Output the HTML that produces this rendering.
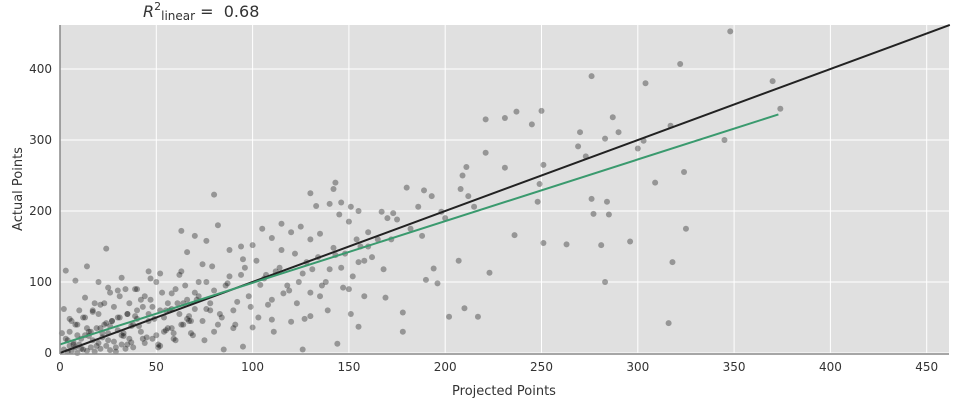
<!DOCTYPE html>
<html><head><meta charset="utf-8"><style>
body{margin:0;background:#fff;font-family:"Liberation Sans","DejaVu Sans",sans-serif}
svg text{font-family:"DejaVu Sans","Liberation Sans",sans-serif;fill:#333}
</style></head><body>
<svg id="c" width="959" height="400" xmlns="http://www.w3.org/2000/svg">
<rect x="60" y="25" width="889" height="328" fill="#e0e0e0"/>
<g id="grid"></g><g id="pts"></g><g id="lines"></g><g id="ticks"></g>
<line x1="60" y1="25" x2="60" y2="354" stroke="#888" stroke-width="1.5"/>
<line x1="60" y1="354" x2="949" y2="354" stroke="#888" stroke-width="1.5"/>
<text x="143" y="17" font-size="16"><tspan font-style="italic">R</tspan><tspan font-size="11" dy="-7">2</tspan><tspan font-size="12" dy="10">linear</tspan><tspan dy="-3">&#160;=&#160;&#160;0.68</tspan></text>
<text x="504" y="395" font-size="13" text-anchor="middle">Projected Points</text>
<text x="22" y="189" font-size="13" text-anchor="middle" transform="rotate(-90 22 189)">Actual Points</text>
</svg>
<script>
const xTicks=[0,50,100,150,200,250,300,350,400,450];
const yTicks=[0,100,200,300,400];
const fitLine=[[0,12],[373,336]];
const idLine=[[0,0],[462,462]];
const px=[348,322,276,370,304,374,250,237,231,287,245,317,221,270,290,283,300,303,345,269,221,231,251,273,211,209,208,212,180,189,193,143,142,130,133,146,151,155,167,173,186,198,215,200,80,249,276,284,277,285,324,309,248,236,251,263,281,296,325,318,283,316,223,217,210,202,207,196,194,190,178,178,155,144,126,120,130,158,169,95,90,85,100,110,
24,3,8,14,20,25,32,40,46,52,58,63,66,70,76,82,88,94,100,105,110,115,120,125,130,135,140,145,150,160,165,170,175,182,188,
2,4,5,6,7,8,9,10,11,12,13,14,15,16,17,18,19,20,21,22,23,24,25,26,27,28,29,30,31,32,33,34,35,36,37,38,40,42,44,46,48,50,52,54,56,58,60,62,64,66,68,70,
3,5,7,9,11,13,15,17,19,21,23,25,27,29,31,33,35,37,39,41,43,45,47,49,51,53,55,57,59,61,63,65,67,69,72,74,76,78,80,
6,10,14,18,22,26,30,34,38,42,46,50,54,58,62,66,70,74,78,82,86,90,94,98,102,106,110,114,118,122,126,130,134,138,142,146,150,154,158,
1,4,8,12,16,20,24,28,32,36,40,44,48,52,56,60,64,68,72,76,80,84,88,92,96,104,108,112,116,124,128,136,140,148,152,156,162,168,172,
2,5,9,13,17,21,26,30,35,39,43,47,51,55,59,63,67,71,75,79,83,87,91,95,99,103,107,111,115,119,123,127,131,135,139,143,147,151,155,160];
const py=[453,407,390,383,380,344,341,340,331,332,322,320,329,311,311,302,288,299,300,291,282,261,265,277,262,250,231,221,233,229,221,240,231,225,207,212,206,200,199,197,206,199,206,190,223,238,217,213,196,195,255,240,213,166,155,153,152,157,175,128,100,42,113,51,63,51,130,98,119,103,30,57,37,13,5,44,52,80,78,9,35,5,36,47,
147,116,102,122,100,92,106,90,115,112,84,172,142,165,158,180,145,150,152,175,162,182,170,178,160,168,210,195,185,170,160,190,188,175,165,
5,2,10,3,15,8,0,12,20,5,25,3,30,8,18,2,35,14,6,22,40,10,28,4,45,16,2,32,50,12,24,6,55,20,38,8,60,30,14,45,65,25,10,50,70,35,18,55,40,75,28,62,
20,30,12,40,6,50,24,60,10,35,70,18,45,8,80,28,55,15,90,38,65,22,75,48,12,85,32,60,20,70,40,95,52,25,80,45,100,60,30,
45,60,35,70,28,85,50,90,40,75,55,100,30,62,110,48,85,125,70,40,95,60,110,80,130,105,75,120,95,140,112,85,135,100,148,120,90,160,130,
28,18,40,50,30,55,42,65,25,70,48,80,20,60,35,90,70,45,100,62,88,50,108,72,120,96,68,115,84,100,128,95,118,140,108,150,135,118,160,
62,48,25,78,58,68,38,88,12,52,20,105,8,60,28,115,45,75,18,122,55,98,40,132,65,50,110,30,145,88,70,48,118,80,60,138,92,55,128,150];
const X=v=>60+v*1.926, Y=v=>353-v*0.71;
const ns='http://www.w3.org/2000/svg';
function mk(t,a,p){const e=document.createElementNS(ns,t);for(const k in a)e.setAttribute(k,a[k]);p.appendChild(e);return e;}
const g=document.getElementById('grid'),tk=document.getElementById('ticks');
xTicks.forEach(v=>{const l=mk('line',{x1:X(v),x2:X(v),y1:25,y2:353,stroke:'#fff','stroke-width':1},g);


const t=mk('text',{x:X(v),y:371,'font-size':12,'text-anchor':'middle'},tk);t.textContent=v;

});
yTicks.forEach(v=>{const l=mk('line',{x1:60,x2:949,y1:Y(v),y2:Y(v),stroke:'#fff','stroke-width':1},g);


const t=mk('text',{x:52,y:Y(v)+4,'font-size':12,'text-anchor':'end'},tk);t.textContent=v;

});
const pg=document.getElementById('pts');
for(let i=0;i<Math.min(px.length,py.length);i++){const c=mk('circle',{cx:X(px[i]),cy:Y(py[i]),r:3,fill:'rgba(0,0,0,0.33)'},pg);

}
const lg=document.getElementById('lines');
const id=mk('line',{x1:X(idLine[0][0]),y1:Y(idLine[0][1]),x2:X(idLine[1][0]),y2:Y(idLine[1][1]),stroke:'#222','stroke-width':2},lg);


const f=mk('line',{x1:X(fitLine[0][0]),y1:Y(fitLine[0][1]),x2:X(fitLine[1][0]),y2:Y(fitLine[1][1]),stroke:'#3a9a6e','stroke-width':2},lg);


</script>
</body></html>
